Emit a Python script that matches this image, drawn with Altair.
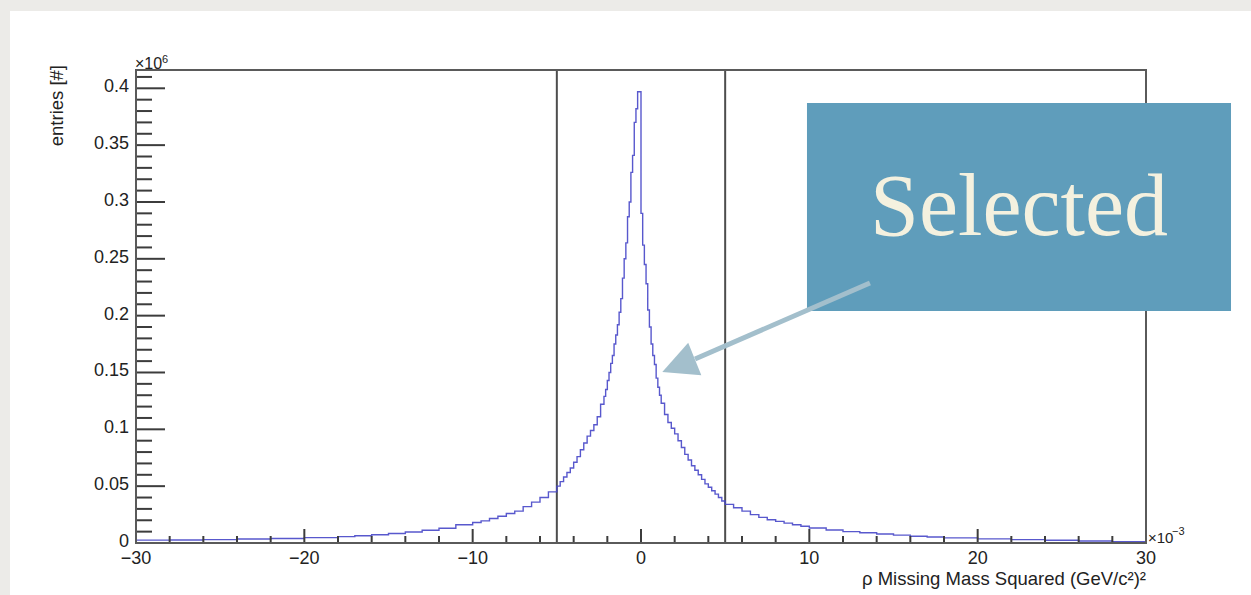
import altair as alt
import pandas as pd

# ---------------- data ----------------
# histogram bins: left edges (x in 1e-3 GeV^2/c^4) and entries (in 1e6)
bin_left_edges = [
    -30, -28, -26, -24, -22, -20, -18, -17, -16, -15, -14, -13, -12, -11, -10,
    -9.5, -9, -8.5, -8, -7.5, -7, -6.5, -6, -5.5, -5, -4.8, -4.6, -4.4, -4.2,
    -4.0, -3.8, -3.6, -3.4, -3.2, -3.0, -2.8, -2.6, -2.4, -2.2, -2.1, -2.0,
    -1.9, -1.8, -1.7, -1.6, -1.5, -1.4, -1.3, -1.2, -1.1, -1.0, -0.9, -0.8,
    -0.7, -0.6, -0.5, -0.4, -0.3, -0.2,
    0.0, 0.1, 0.2, 0.3, 0.4, 0.5, 0.6, 0.7, 0.8, 0.9, 1.0, 1.1, 1.2, 1.4, 1.6,
    1.8, 2.0, 2.2, 2.4, 2.6, 2.8, 3.0, 3.2, 3.4, 3.6, 3.8, 4.0, 4.2, 4.4, 4.6,
    4.8, 5.0, 5.5, 6.0, 6.5, 7.0, 7.5, 8.0, 8.5, 9.0, 9.5, 10, 11, 12, 13, 14,
    15, 16, 17, 18, 20, 22, 24, 26, 28,
]
bin_counts = [
    0.0025, 0.0027, 0.0030, 0.0035, 0.0040, 0.0047, 0.0056, 0.0064, 0.0073,
    0.0084, 0.0097, 0.0112, 0.0130, 0.0160, 0.0180,
    0.0195, 0.0215, 0.0235, 0.0260, 0.0280, 0.0320, 0.0360, 0.0400, 0.0450,
    0.0500, 0.0540, 0.0580, 0.0620, 0.0660,
    0.0710, 0.0760, 0.0820, 0.0880, 0.0940, 0.0990, 0.1040, 0.1110, 0.1220,
    0.1290, 0.1350,
    0.1430, 0.1500, 0.1580, 0.1650, 0.1750, 0.1830, 0.1920, 0.2030, 0.2150,
    0.2330, 0.2500, 0.2640,
    0.2870, 0.3000, 0.3260, 0.3410, 0.3700, 0.3820,
    0.3970,
    0.2900, 0.2620, 0.2450, 0.2280, 0.2050, 0.1900, 0.1750, 0.1650, 0.1570,
    0.1450, 0.1370, 0.1300, 0.1230, 0.1130, 0.1060,
    0.1010, 0.0960, 0.0900, 0.0840, 0.0780, 0.0730, 0.0680, 0.0640, 0.0600,
    0.0560, 0.0520, 0.0490, 0.0460, 0.0430, 0.0400,
    0.0370, 0.0340, 0.0310, 0.0280, 0.0250, 0.0225, 0.0205, 0.0190, 0.0175,
    0.0160, 0.0147, 0.0132, 0.0115, 0.0100, 0.0090, 0.0079,
    0.0069, 0.0060, 0.0053, 0.0045, 0.0036, 0.0030, 0.0024, 0.0018, 0.0012,
]
x_end = 30

cut_positions = [-5, 5]

x_major_ticks = [-30, -20, -10, 0, 10, 20, 30]
x_tick_labels = ["−30", "−20", "−10", "0", "10", "20", "30"]
x_minor_ticks = [v for v in range(-30, 31, 2) if v % 10 != 0]
y_major_ticks = [0, 0.05, 0.1, 0.15, 0.2, 0.25, 0.3, 0.35, 0.4]
y_tick_labels = ["0", "0.05", "0.1", "0.15", "0.2", "0.25", "0.3", "0.35", "0.4"]
y_minor_ticks = [round(i * 0.01, 2) for i in range(0, 42) if i % 5 != 0]

annotation_box = [{"x": 9.86, "x2": 35.05, "y": 0.3871, "y2": 0.2041}]
annotation_arrow = [{"x": 13.60, "y": 0.2287, "x2": 3.21, "y2": 0.1619}]
annotation_head = [{"x": 2.23, "y": 0.1561}]
annotation_text = [{"x": 22.46, "y": 0.2709, "label": "Selected"}]

# ---------------- chart ----------------
W, H = 1010, 473
Y_MAX = 0.4161
FONT = "Liberation Sans"
LABEL_COLOR = "#222222"

xs = alt.Scale(domain=[-30, 30], nice=False, zero=False)
ys = alt.Scale(domain=[0, Y_MAX], nice=False, zero=False)

hist_df = pd.DataFrame({"x": bin_left_edges + [x_end],
                        "y": bin_counts + [bin_counts[-1]]})

one = alt.Data(values=[{}])

panel = alt.Chart(one).mark_rect(color="#ffffff").encode(
    x=alt.value(-126), x2=alt.value(1115), y=alt.value(-59), y2=alt.value(525))

cuts = alt.Chart(pd.DataFrame({"x": cut_positions})).mark_rule(
    color="#4d4d4d", strokeWidth=2).encode(
    x=alt.X("x:Q", scale=xs, axis=None),
    y=alt.value(0), y2=alt.value(H))

hist = alt.Chart(hist_df).mark_line(
    interpolate="step-after", color="#4646c8", strokeWidth=1.4, opacity=0.9
).encode(
    x=alt.X("x:Q", scale=xs, axis=None),
    y=alt.Y("y:Q", scale=ys, axis=None),
)

tick_color = "#3c3c3c"
yt_major = alt.Chart(pd.DataFrame({"y": y_major_ticks})).mark_rule(
    color=tick_color, strokeWidth=2).encode(
    y=alt.Y("y:Q", scale=ys, axis=None), x=alt.value(0), x2=alt.value(29))
yt_minor = alt.Chart(pd.DataFrame({"y": y_minor_ticks})).mark_rule(
    color=tick_color, strokeWidth=2).encode(
    y=alt.Y("y:Q", scale=ys, axis=None), x=alt.value(0), x2=alt.value(16))
xt_major = alt.Chart(pd.DataFrame({"x": x_major_ticks})).mark_rule(
    color=tick_color, strokeWidth=2).encode(
    x=alt.X("x:Q", scale=xs, axis=None), y=alt.value(H), y2=alt.value(H - 14))
xt_minor = alt.Chart(pd.DataFrame({"x": x_minor_ticks})).mark_rule(
    color=tick_color, strokeWidth=2).encode(
    x=alt.X("x:Q", scale=xs, axis=None), y=alt.value(H), y2=alt.value(H - 7))

y_labels = alt.Chart(pd.DataFrame({"y": y_major_ticks, "t": y_tick_labels})).mark_text(
    font=FONT, fontSize=18, align="right", baseline="middle", color=LABEL_COLOR,
    dy=-1
).encode(y=alt.Y("y:Q", scale=ys, axis=None), x=alt.value(-7), text="t:N")

x_labels = alt.Chart(pd.DataFrame({"x": x_major_ticks, "t": x_tick_labels})).mark_text(
    font=FONT, fontSize=18, align="center", baseline="alphabetic", color=LABEL_COLOR
).encode(x=alt.X("x:Q", scale=xs, axis=None), y=alt.value(H + 21), text="t:N")

frame = alt.Chart(one).mark_rect(
    filled=False, stroke="#5a5a5a", strokeWidth=2).encode(
    x=alt.value(0), x2=alt.value(W), y=alt.value(0), y2=alt.value(H))

def label(text, x, y, size, align="left", baseline="alphabetic", angle=0,
          color=LABEL_COLOR):
    kw = dict(font=FONT, fontSize=size, align=align, baseline=baseline,
              color=color)
    if angle:
        kw["angle"] = angle
    return alt.Chart(one).mark_text(**kw).encode(
        x=alt.value(x), y=alt.value(y), text=alt.value(text))

texts = [
    label("×10", -1, -1, 16),
    label("6", 26, -7, 11),
    label("×10", 1012, 473, 15),
    label("−3", 1036, 465, 11),
    label("ρ Missing Mass Squared (GeV/c²)²", 1010, 515, 18.5, align="right"),
    label("entries [#]", -79, -5, 18.5, align="right", baseline="middle",
          angle=270),
]

box = alt.Chart(pd.DataFrame(annotation_box)).mark_rect(color="#5f9dbb").encode(
    x=alt.X("x:Q", scale=xs, axis=None), x2="x2:Q",
    y=alt.Y("y:Q", scale=ys, axis=None), y2="y2:Q")

arrow = alt.Chart(pd.DataFrame(annotation_arrow)).mark_rule(
    color="#a3bfcc", strokeWidth=5, strokeCap="butt").encode(
    x=alt.X("x:Q", scale=xs, axis=None), x2="x2:Q",
    y=alt.Y("y:Q", scale=ys, axis=None), y2="y2:Q")

head = alt.Chart(pd.DataFrame(annotation_head)).mark_point(
    shape="M0,-1L1,1L-1,1Z", filled=True, size=1225, angle=248,
    color="#a3bfcc", opacity=1).encode(
    x=alt.X("x:Q", scale=xs, axis=None),
    y=alt.Y("y:Q", scale=ys, axis=None))

sel = alt.Chart(pd.DataFrame(annotation_text)).mark_text(
    font="Liberation Serif", fontSize=88, color="#f4f1df", align="center",
    baseline="alphabetic").encode(
    x=alt.X("x:Q", scale=xs, axis=None),
    y=alt.Y("y:Q", scale=ys, axis=None),
    text="label:N")

chart = alt.layer(
    panel, cuts, hist, yt_major, yt_minor, xt_major, xt_minor, frame,
    y_labels, x_labels, *texts, box, arrow, head, sel
).properties(
    width=W, height=H,
    padding={"left": 136, "top": 70, "right": 105, "bottom": 52},
    autosize=alt.AutoSizeParams(type="none"),
    background="#ecebe8",
).configure_view(strokeWidth=0)

chart.save("out.html", embed_options={"renderer": "svg", "actions": False})
